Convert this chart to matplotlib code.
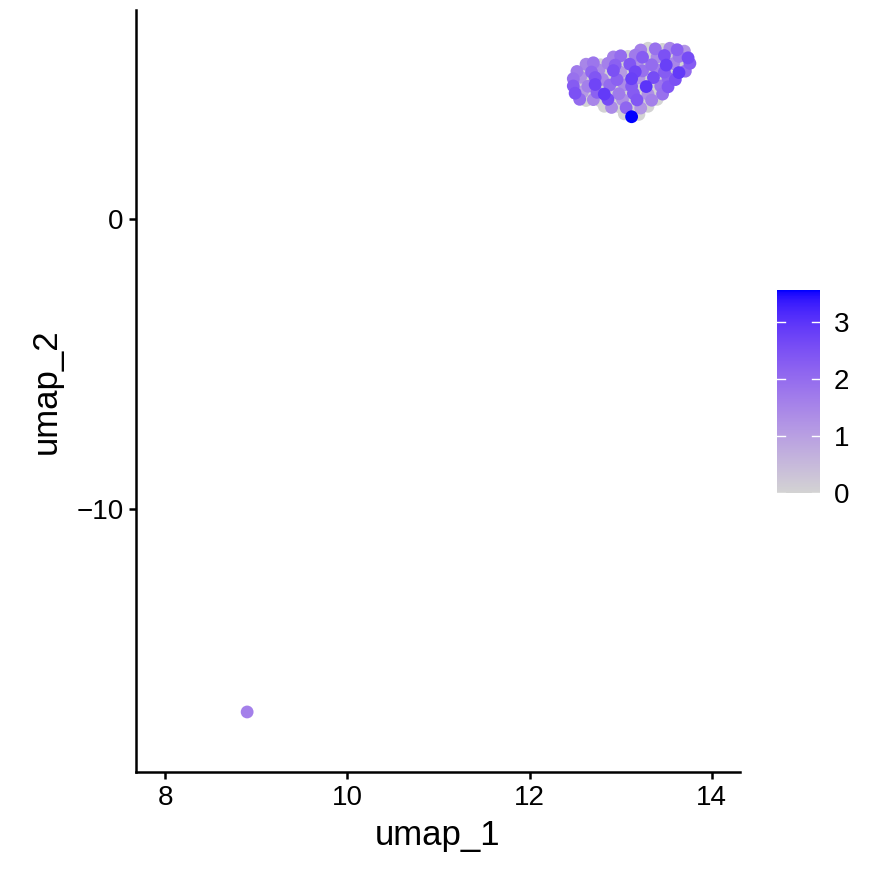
import numpy as np
import matplotlib.pyplot as plt
from matplotlib.colors import ListedColormap

plt.rcParams['font.family'] = ['Liberation Sans', 'DejaVu Sans']

# umap coordinates and expression value per cell
umap_1 = [
    13.22, 13.30, 13.38, 13.46, 13.54, 13.62, 13.70,
    12.92, 13.00, 13.08, 13.16, 13.24, 13.32, 13.40, 13.48, 13.56, 13.64, 13.74,
    12.62, 12.70, 12.78, 12.86, 12.94, 13.02, 13.10, 13.18, 13.26, 13.34, 13.42, 13.50, 13.58, 13.66, 13.76,
    12.52, 12.60, 12.68, 12.76, 12.84, 12.92, 13.00, 13.08, 13.16, 13.24, 13.32, 13.40, 13.48, 13.56, 13.64, 13.71,
    12.48, 12.56, 12.64, 12.72, 12.80, 12.88, 12.96, 13.04, 13.12, 13.20, 13.28, 13.36, 13.44, 13.52, 13.60,
    12.48, 12.56, 12.64, 12.72, 12.80, 12.88, 12.96, 13.04, 13.12, 13.20, 13.28, 13.36, 13.44, 13.52,
    12.50, 12.58, 12.66, 12.74, 12.82, 12.90, 12.98, 13.06, 13.14, 13.22, 13.30, 13.38, 13.46,
    12.55, 12.62, 12.70, 12.78, 12.86, 12.94, 13.02, 13.10, 13.18, 13.26, 13.34, 13.40,
    12.82, 12.90, 12.98, 13.06, 13.14, 13.22, 13.30,
    13.04, 13.12, 13.20,
    8.90,
]
umap_2 = [
    5.82, 5.88, 5.86, 5.84, 5.88, 5.83, 5.78,
    5.58, 5.62, 5.60, 5.64, 5.57, 5.62, 5.58, 5.63, 5.56, 5.60, 5.55,
    5.33, 5.38, 5.31, 5.36, 5.30, 5.37, 5.33, 5.28, 5.36, 5.31, 5.38, 5.30, 5.35, 5.29, 5.36,
    5.08, 5.12, 5.06, 5.13, 5.07, 5.11, 5.05, 5.12, 5.07, 5.10, 5.05, 5.13, 5.06, 5.11, 5.04, 5.09,
    4.83, 4.88, 4.82, 4.87, 4.81, 4.86, 4.80, 4.88, 4.83, 4.86, 4.81, 4.87, 4.82, 4.85, 4.80,
    4.58, 4.62, 4.57, 4.63, 4.56, 4.61, 4.55, 4.62, 4.57, 4.60, 4.56, 4.62, 4.58, 4.55,
    4.33, 4.37, 4.31, 4.36, 4.30, 4.35, 4.31, 4.37, 4.32, 4.36, 4.30, 4.34, 4.30,
    4.12, 4.08, 4.11, 4.06, 4.12, 4.07, 4.11, 4.05, 4.10, 4.06, 4.09, 4.12,
    3.88, 3.84, 3.87, 3.83, 3.86, 3.82, 3.88,
    3.62, 3.52, 3.60,
    -17.0,
]
expr = [
    1.6, 0, 1.9, 0, 1.5, 2.2, 1.2,
    1.6, 2.0, 0, 1.7, 2.3, 0, 1.4, 2.5, 0, 1.8, 2.6,
    1.5, 1.8, 0, 1.6, 2.2, 0, 2.4, 1.3, 0, 2.0, 0, 2.8, 1.5, 0, 2.3,
    1.7, 0, 2.1, 1.4, 0, 2.5, 1.1, 0, 2.7, 1.9, 0, 1.6, 2.3, 0, 2.9, 2.0,
    1.9, 1.3, 0, 2.4, 1.5, 0, 2.2, 0, 2.8, 1.2, 0, 2.6, 0, 2.1, 2.5,
    2.3, 0, 1.6, 2.7, 0, 2.0, 0, 1.4, 2.3, 0, 3.0, 0, 1.8, 2.4,
    2.5, 1.1, 0, 2.2, 2.9, 0, 1.7, 0, 2.3, 0, 1.3, 0, 1.9,
    2.0, 0, 1.5, 0, 2.6, 0, 1.3, 0, 2.4, 0, 1.6, 0,
    0, 1.4, 0, 2.1, 0, 1.2, 0,
    0, 3.56, 0,
    1.6,
]


# lightgrey -> blue, interpolated in Lab like ggplot does
def srgb_to_lab(rgb):
    c = np.array(rgb, dtype=float)
    c = np.where(c <= 0.04045, c / 12.92, ((c + 0.055) / 1.055) ** 2.4)
    M = np.array([[0.4124, 0.3576, 0.1805], [0.2126, 0.7152, 0.0722], [0.0193, 0.1192, 0.9505]])
    xyz = M @ c / np.array([0.9505, 1.0, 1.089])
    f = np.where(xyz > 0.008856, np.cbrt(xyz), 7.787 * xyz + 16 / 116)
    return np.array([116 * f[1] - 16, 500 * (f[0] - f[1]), 200 * (f[1] - f[2])])


def lab_to_srgb(lab):
    fy = (lab[0] + 16) / 116
    fx = fy + lab[1] / 500
    fz = fy - lab[2] / 200
    f = np.array([fx, fy, fz])
    xyz = np.where(f ** 3 > 0.008856, f ** 3, (f - 16 / 116) / 7.787) * np.array([0.9505, 1.0, 1.089])
    M = np.array([[3.2406, -1.5372, -0.4986], [-0.9689, 1.8758, 0.0415], [0.0557, -0.2040, 1.0570]])
    c = np.clip(M @ xyz, 0, 1)
    c = np.where(c <= 0.0031308, 12.92 * c, 1.055 * c ** (1 / 2.4) - 0.055)
    return np.clip(c, 0, 1)


lo = srgb_to_lab([211 / 255, 211 / 255, 211 / 255])
hi = srgb_to_lab([0, 0, 1])
cmap = ListedColormap([lab_to_srgb(lo + (hi - lo) * t) for t in np.linspace(0, 1, 256)])

x = np.array(umap_1)
y = np.array(umap_2)
v = np.array(expr)
order = np.argsort(v, kind="stable")

fig = plt.figure(figsize=(8.74, 8.75), dpi=100)
ax = fig.add_axes([0.1556, 0.1177, 0.6911, 0.8709])
sc = ax.scatter(x[order], y[order], c=v[order], cmap=cmap, vmin=0, vmax=3.56,
                s=85, linewidths=0)

ax.set_xlim(7.68, 14.31)
ax.set_ylim(-19.07, 7.2)
ax.set_xticks([8, 10, 12, 14])
ax.set_yticks([-10, 0])
ax.set_yticklabels(["\u221210", "0"])
for s in ["top", "right"]:
    ax.spines[s].set_visible(False)
for s in ["left", "bottom"]:
    ax.spines[s].set_linewidth(1.8)
ax.tick_params(labelsize=20, width=1.8, length=5, color="black", pad=4)
ax.set_xlabel("umap_1", fontsize=25, labelpad=6)
ax.set_ylabel("umap_2", fontsize=25, labelpad=10)

cax = fig.add_axes([0.889, 0.4366, 0.049, 0.232])
cb = fig.colorbar(sc, cax=cax)
cb.outline.set_visible(False)
cb.set_ticks([0, 1, 2, 3])
cax.tick_params(length=0, labelsize=20, pad=10)
for t in [0, 1, 2, 3]:
    cax.plot([0, 0.18], [t, t], color="white", lw=1, transform=cax.get_yaxis_transform())
    cax.plot([0.82, 1], [t, t], color="white", lw=1, transform=cax.get_yaxis_transform())

fig.savefig("out.png", dpi=100)
